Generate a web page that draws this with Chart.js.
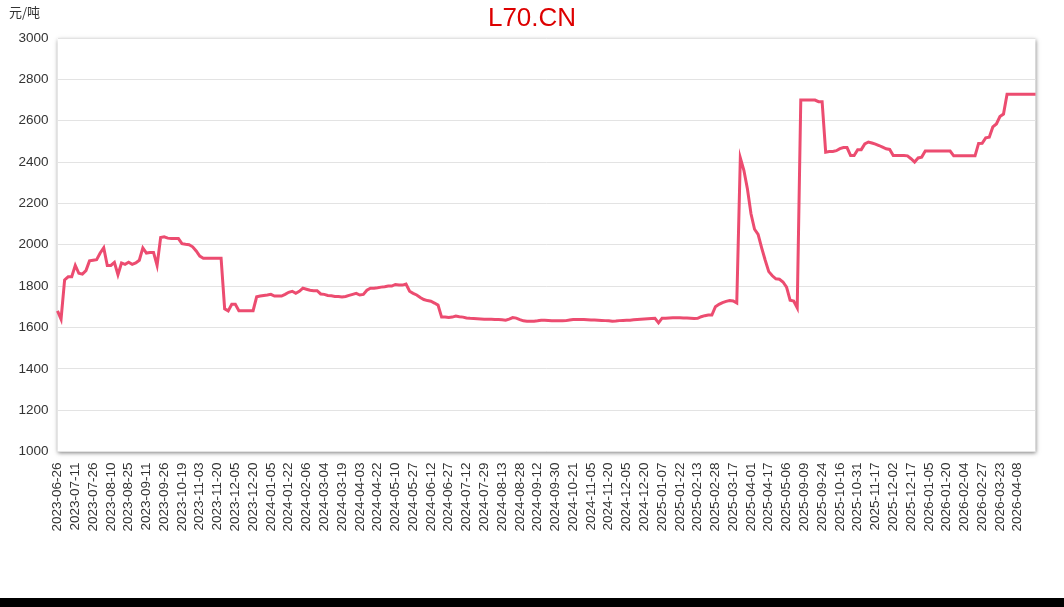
<!DOCTYPE html>
<html>
<head>
<meta charset="utf-8">
<script src="https://cdn.jsdelivr.net/npm/chart.js@4"></script>
<style>
  html, body { margin: 0; padding: 0; background: #000; }
  #wrap { width: 1064px; height: 598px; background: #fff; }
</style>
</head>
<body>
<div id="wrap"><canvas id="c" width="1064" height="598"></canvas></div>
<script>
const chartTitle = 'L70.CN';
const unitLabel = '元/吨';

const tickLabels = [
  '2023-06-26','2023-07-11','2023-07-26','2023-08-10','2023-08-25','2023-09-11','2023-09-26','2023-10-19','2023-11-03','2023-11-20','2023-12-05','2023-12-20',
  '2024-01-05','2024-01-22','2024-02-06','2024-03-04','2024-03-19','2024-04-03','2024-04-22','2024-05-10','2024-05-27','2024-06-12','2024-06-27','2024-07-12','2024-07-29','2024-08-13','2024-08-28','2024-09-12','2024-09-30','2024-10-21','2024-11-05','2024-11-20','2024-12-05','2024-12-20',
  '2025-01-07','2025-01-22','2025-02-13','2025-02-28','2025-03-17','2025-04-01','2025-04-17','2025-05-06','2025-09-09','2025-09-24','2025-10-16','2025-10-31','2025-11-17','2025-12-02','2025-12-17',
  '2026-01-05','2026-01-20','2026-02-04','2026-02-27','2026-03-23','2026-04-08'
];

// price samples (元/吨), 5 samples per labelled interval
const prices = [
  1680,1640,1830,1845,1845,1900,1862,1858,1875,1922,
  1925,1928,1960,1985,1900,1900,1915,1855,1912,1905,
  1915,1905,1912,1925,1985,1960,1963,1963,1900,2035,
  2038,2032,2030,2030,2030,2005,2002,2000,1990,1970,
  1945,1935,1935,1935,1935,1935,1935,1690,1680,1712,
  1712,1681,1681,1681,1681,1681,1748,1752,1755,1757,
  1760,1752,1752,1752,1760,1770,1775,1765,1775,1790,
  1785,1780,1778,1778,1762,1760,1755,1753,1750,1750,
  1747,1750,1755,1760,1765,1757,1760,1780,1790,1790,
  1792,1795,1797,1800,1800,1808,1805,1805,1810,1775,
  1765,1757,1745,1735,1730,1727,1718,1708,1650,1650,
  1648,1650,1655,1652,1650,1646,1644,1643,1642,1641,
  1640,1640,1640,1639,1638,1637,1635,1640,1648,1645,
  1638,1632,1630,1630,1630,1632,1635,1635,1634,1633,
  1633,1632,1632,1633,1636,1638,1638,1639,1638,1637,
  1636,1636,1635,1634,1633,1632,1630,1631,1633,1634,
  1635,1635,1637,1639,1640,1641,1642,1643,1644,1622,
  1645,1645,1646,1647,1647,1647,1646,1646,1645,1643,
  1644,1652,1657,1660,1660,1700,1712,1720,1726,1730,
  1728,1718,2420,2360,2270,2150,2075,2050,1985,1925,
  1870,1850,1835,1833,1820,1795,1732,1728,1695,2700,
  2700,2700,2700,2700,2692,2692,2448,2451,2451,2455,
  2465,2470,2470,2432,2432,2460,2460,2488,2497,2492,
  2487,2480,2472,2464,2461,2432,2432,2432,2432,2430,
  2416,2400,2420,2424,2453,2453,2453,2453,2453,2453,
  2453,2453,2430,2430,2430,2430,2430,2430,2430,2490,
  2491,2517,2520,2570,2584,2620,2632,2728,2728,2728,
  2728,2728,2728,2728,2728,2728
];

const yMin = 1000, yMax = 3000, yStep = 200;

const categories = [];
tickLabels.forEach(l => { categories.push(l); for (let j = 0; j < 4; j++) categories.push(''); });
while (categories.length < prices.length) categories.push('');

const plotShadow = {
  id: 'plotShadow',
  beforeDraw(chart) {
    const { ctx, chartArea: a } = chart;
    ctx.save();
    ctx.shadowColor = 'rgba(0,0,0,0.5)';
    ctx.shadowBlur = 4;
    ctx.shadowOffsetX = 0;
    ctx.shadowOffsetY = 1.5;
    ctx.fillStyle = '#fff';
    ctx.fillRect(a.left, a.top, a.right - a.left, a.bottom - a.top);
    ctx.restore();
  }
};

const texts = {
  id: 'texts',
  afterDraw(chart) {
    const ctx = chart.ctx;
    ctx.save();
    ctx.fillStyle = '#dd0000';
    ctx.font = '26px "Liberation Sans", Arial, sans-serif';
    ctx.textAlign = 'center';
    ctx.textBaseline = 'alphabetic';
    ctx.fillText(chartTitle, 532, 26);
    ctx.fillStyle = '#333';
    ctx.font = '13px "Noto Sans CJK SC", sans-serif';
    ctx.textAlign = 'left';
    ctx.fillText(unitLabel, 9, 17);
    ctx.restore();
  }
};

new Chart(document.getElementById('c'), {
  type: 'line',
  data: {
    labels: categories,
    datasets: [{
      data: prices,
      borderColor: 'rgb(236,76,112)',
      borderWidth: 3,
      pointRadius: 0,
      pointHoverRadius: 0,
      tension: 0,
      fill: false
    }]
  },
  options: {
    responsive: false,
    devicePixelRatio: 1,
    animation: false,
    layout: { padding: { top: 38, right: 28.5, left: 0, bottom: 0 } },
    plugins: { legend: { display: false }, title: { display: false }, tooltip: { enabled: false } },
    scales: {
      x: {
        type: 'category',
        grid: { display: false, drawTicks: false },
        border: { display: false },
        ticks: {
          autoSkip: false,
          minRotation: 90,
          maxRotation: 90,
          padding: 11,
          color: '#333',
          font: { family: '"Liberation Sans", Arial, sans-serif', size: 13.5 }
        },
        afterFit(s) { s.height = 146.5; }
      },
      y: {
        min: yMin,
        max: yMax,
        grid: { color: '#e3e3e3', drawTicks: false, lineWidth: 1 },
        border: { display: false },
        ticks: {
          stepSize: yStep,
          padding: 9,
          color: '#333',
          font: { family: '"Liberation Sans", Arial, sans-serif', size: 13.5 },
          callback: v => String(v)
        },
        afterFit(s) { s.width = 57.5; }
      }
    }
  },
  plugins: [plotShadow, texts]
});
</script>
</body>
</html>
